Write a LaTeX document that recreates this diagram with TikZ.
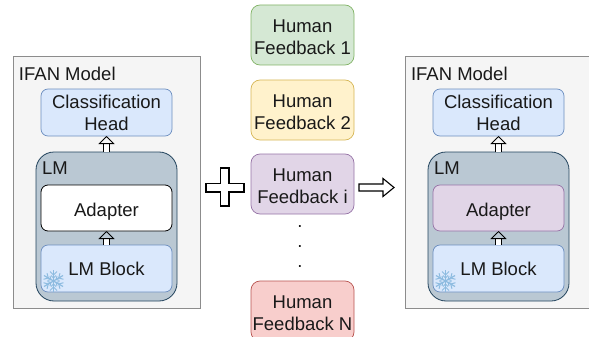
\documentclass[tikz,border=0pt]{standalone}
\usepackage{fontspec}
\setmainfont{Liberation Sans}
\usetikzlibrary{arrows.meta}
\definecolor{panelfill}{HTML}{F5F5F5}
\definecolor{paneldraw}{HTML}{8C8C8C}
\definecolor{bluefill}{HTML}{DAE8FC}
\definecolor{bluedraw}{HTML}{6C8EBF}
\definecolor{lmfill}{HTML}{BAC8D3}
\definecolor{lmdraw}{HTML}{23445D}
\definecolor{greenfill}{HTML}{D5E8D4}
\definecolor{greendraw}{HTML}{82B366}
\definecolor{yellowfill}{HTML}{FFF2CC}
\definecolor{yellowdraw}{HTML}{D6B656}
\definecolor{purplefill}{HTML}{E1D5E7}
\definecolor{purpledraw}{HTML}{9673A6}
\definecolor{redfill}{HTML}{F8CECC}
\definecolor{reddraw}{HTML}{B85450}
\definecolor{flakecolor}{HTML}{8DBBE0}
\tikzset{
	every node/.style={font=\fontsize{18.5}{22}\selectfont, text=black!90, align=center, outer sep=0, inner sep=0},
	panelbox/.style={draw=paneldraw, fill=panelfill, line width=1pt, minimum width=187, minimum height=251},
	lmbox/.style={draw=lmdraw, fill=lmfill, line width=0.8pt, rounded corners=18, minimum width=141, minimum height=149},
	bluebox/.style={draw=bluedraw, fill=bluefill, line width=0.7pt, rounded corners=7, minimum width=131, minimum height=47},
	adapterbox/.style={draw=black, fill=white, line width=0.8pt, rounded corners=7, minimum width=131, minimum height=46, text depth=0pt, text height=17pt},
	feedbackbox/.style={line width=0.7pt, rounded corners=9, minimum width=103, minimum height=60, text height=39.5pt},
	hollowarrow/.style={draw=black, line width=0.8pt, double=white, double distance=4.5pt, -{Triangle[open, length=8pt, width=16pt]}},
}
\def\snowflake(#1,#2){
	\foreach \ang in {0,60,120,180,240,300} {
		\draw[flakecolor, line width=1.2pt, shift={(#1,#2)}, rotate=\ang] (0,0) -- (0,-11);
		\draw[flakecolor, line width=1pt, shift={(#1,#2)}, rotate=\ang] (-3.5,-9.5) -- (0,-6) -- (3.5,-9.5);
		\draw[flakecolor, line width=1pt, shift={(#1,#2)}, rotate=\ang] (-2.5,-5.5) -- (0,-3) -- (2.5,-5.5);
	}
}

\begin{document}
\begin{tikzpicture}[x=1pt, y=-1pt]
	\useasboundingbox (0, 0) rectangle (589, 337);
	%%%%% LEFT MODEL %%%%%
	\node[panelbox] (panelL) at (106.5, 182.5) {};
	\node[anchor=west] (ifanL) at (19, 74) {IFAN Model};
	\node[bluebox] (headL) at (106.5, 112.5) {Classification\\Head};
	\node[lmbox] (lmL) at (106.5, 226.5) {};
	\node[anchor=west] (lmtextL) at (42, 168) {LM};
	\node[adapterbox] (adapterL) at (106.5, 208) {Adapter};
	\node[bluebox, text height=15pt] (blockL) at (106.5, 268.5) {LM Block};
	\snowflake(53.5, 281)
	\draw[hollowarrow] (blockL.north) -- (adapterL.south);
	\draw[hollowarrow] (lmL.north) -- (headL.south);

	%%%%% FEEDBACK %%%%%
	\node[feedbackbox, draw=greendraw, fill=greenfill] (hf1) at (302.5, 35) {Human\\Feedback 1};
	\node[feedbackbox, draw=yellowdraw, fill=yellowfill] (hf2) at (302.5, 110) {Human\\Feedback 2};
	\node[feedbackbox, draw=purpledraw, fill=purplefill] (hfi) at (302.5, 184) {Human\\Feedback i};
	\node[feedbackbox, draw=reddraw, fill=redfill] (hfn) at (302.5, 311) {Human\\Feedback N};
	\node (dots) at (300, 247) {.\\[-2pt].\\[-2pt].};

	%%%%% PLUS AND ARROW %%%%%
	\draw[line width=1.1pt, fill=white] (220.5, 168) -- (229, 168) -- (229, 183.5) -- (244, 183.5) -- (244, 192)
		-- (229, 192) -- (229, 206) -- (220.5, 206) -- (220.5, 192) -- (206, 192) -- (206, 183.5) -- (220.5, 183.5) -- cycle;
	\coordinate (arrowstart) at (359, 187.5);
	\coordinate (arrowend) at (394, 187.5);
	\draw[line width=1.1pt, fill=white] (arrowstart) ++(0, -3.5) -- ++(24, 0) -- ++(0, -5.5) -- (arrowend)
		-- (383, 196.5) -- ++(0, -5.5) -- (359, 191) -- cycle;

	%%%%% RIGHT MODEL %%%%%
	\node[panelbox, minimum width=184] (panelR) at (497, 182.5) {};
	\node[anchor=west] (ifanR) at (411, 74) {IFAN Model};
	\node[bluebox] (headR) at (498.5, 112.5) {Classification\\Head};
	\node[lmbox] (lmR) at (498.5, 226.5) {};
	\node[anchor=west] (lmtextR) at (434, 168) {LM};
	\node[adapterbox, draw=purpledraw, fill=purplefill, line width=0.7pt] (adapterR) at (498.5, 208) {Adapter};
	\node[bluebox, text height=15pt] (blockR) at (498.5, 268.5) {LM Block};
	\snowflake(445.5, 281)
	\draw[hollowarrow] (blockR.north) -- (adapterR.south);
	\draw[hollowarrow] (lmR.north) -- (headR.south);
\end{tikzpicture}
\end{document}
